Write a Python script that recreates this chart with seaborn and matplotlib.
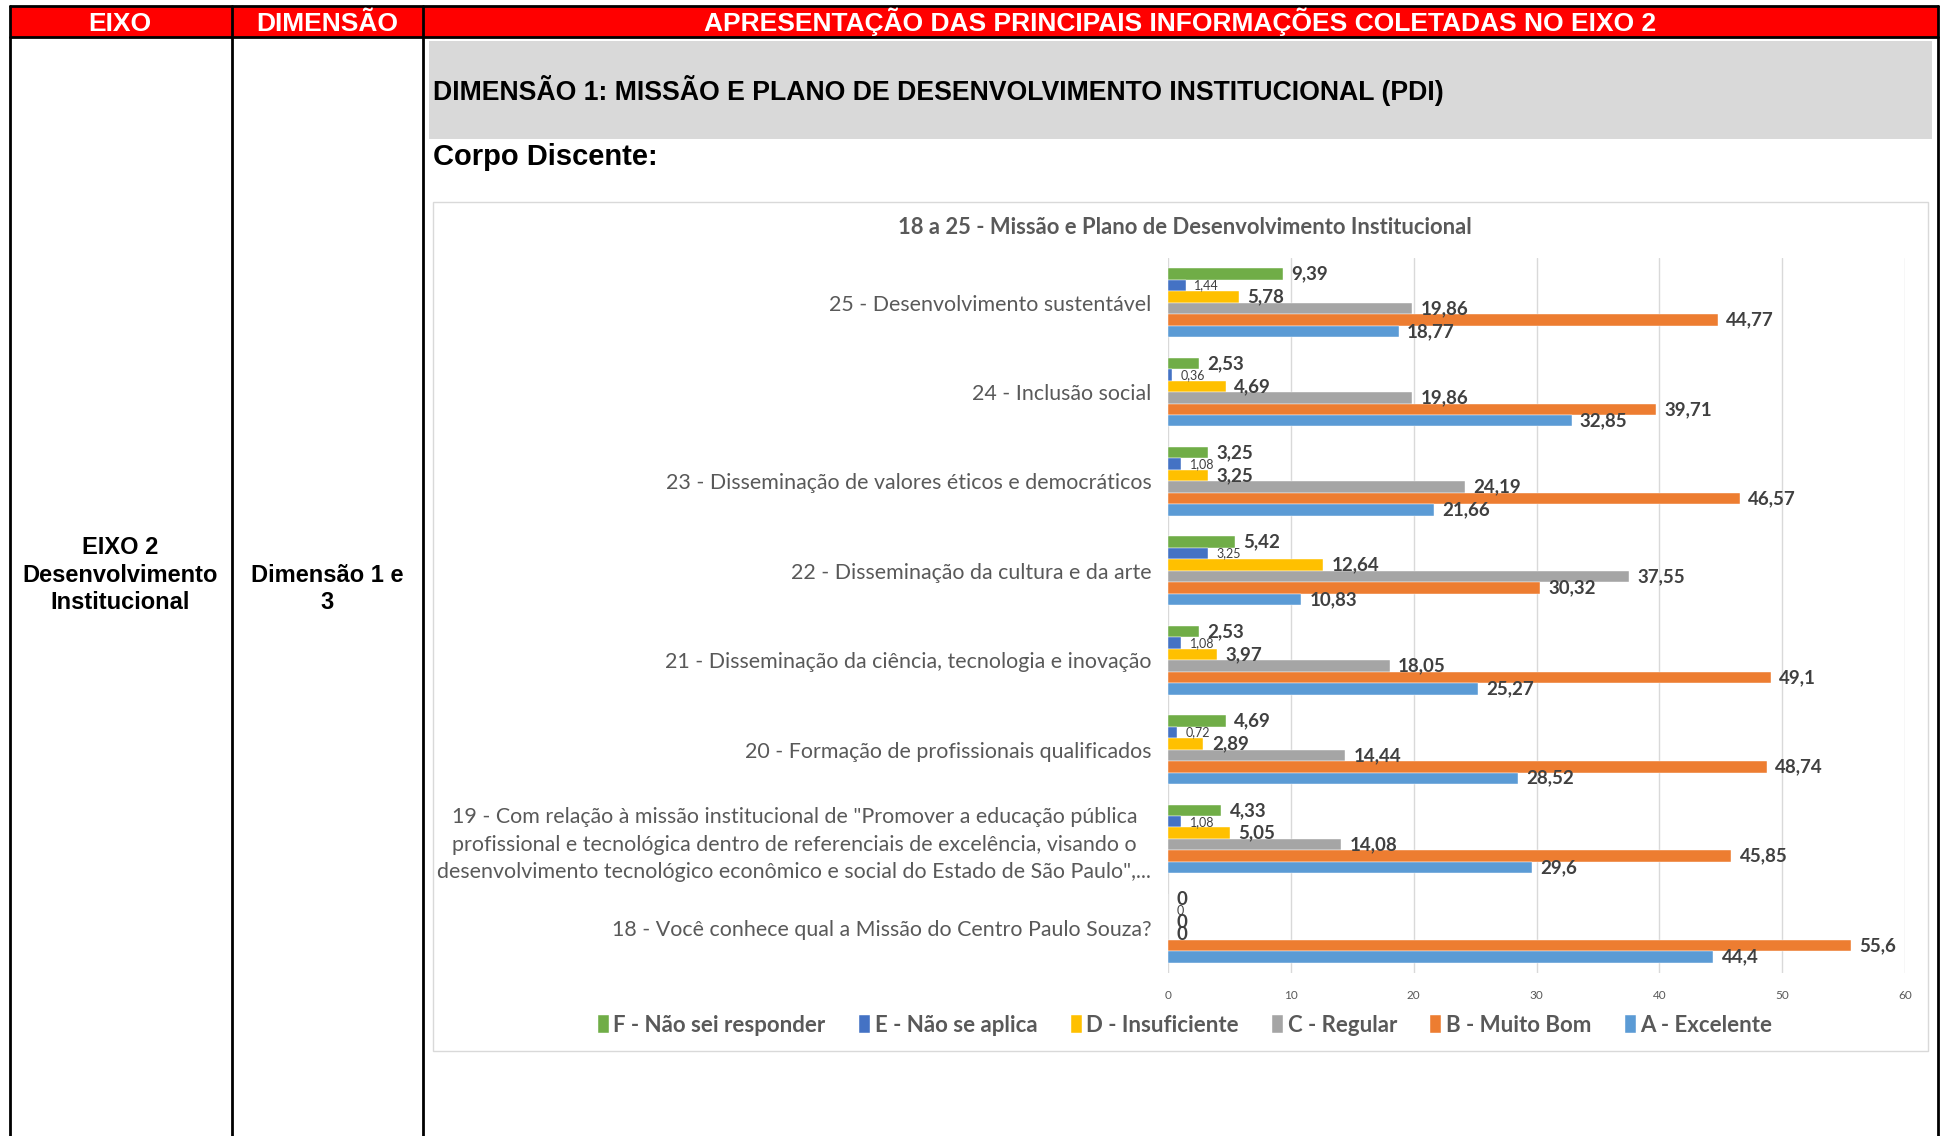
import matplotlib
matplotlib.use("Agg")
import matplotlib.pyplot as plt
from matplotlib.patches import Rectangle
from matplotlib.lines import Line2D
import pandas as pd
import seaborn as sns

W, H = 1944, 1136

QUESTOES = [
    "25 - Desenvolvimento sustentável",
    "24 - Inclusão social",
    "23 - Disseminação de valores éticos e democráticos",
    "22 - Disseminação da cultura e da arte",
    "21 - Disseminação da ciência, tecnologia e inovação",
    "20 - Formação de profissionais qualificados",
    '19 - Com relação à missão institucional de "Promover a educação pública\n'
    "profissional e tecnológica dentro de referenciais de excelência, visando o\n"
    'desenvolvimento tecnológico econômico e social do Estado de São Paulo",...',
    "18 - Você conhece qual a Missão do Centro Paulo Souza?",
]
RESPOSTAS = ["F - Não sei responder", "E - Não se aplica", "D - Insuficiente",
             "C - Regular", "B - Muito Bom", "A - Excelente"]
CORES = ["#70AD47", "#4472C4", "#FFC000", "#A5A5A5", "#ED7D31", "#5B9BD5"]

F_NAO_SEI = [9.39, 2.53, 3.25, 5.42, 2.53, 4.69, 4.33, 0]
E_NAO_APLICA = [1.44, 0.36, 1.08, 3.25, 1.08, 0.72, 1.08, 0]
D_INSUF = [5.78, 4.69, 3.25, 12.64, 3.97, 2.89, 5.05, 0]
C_REGULAR = [19.86, 19.86, 24.19, 37.55, 18.05, 14.44, 14.08, 0]
B_MUITO_BOM = [44.77, 39.71, 46.57, 30.32, 49.1, 48.74, 45.85, 55.6]
A_EXCELENTE = [18.77, 32.85, 21.66, 10.83, 25.27, 28.52, 29.6, 44.4]
X_TICKS = [0, 10, 20, 30, 40, 50, 60]

series = [F_NAO_SEI, E_NAO_APLICA, D_INSUF, C_REGULAR, B_MUITO_BOM, A_EXCELENTE]
rows = []
for resp, vals in zip(RESPOSTAS, series):
    for q, v in zip(QUESTOES, vals):
        rows.append({"questao": q, "resposta": resp, "valor": v})
df = pd.DataFrame(rows)

sns.set_theme(style="white")
plt.rcParams["font.family"] = ["Lato", "DejaVu Sans"]

GRAY_TXT = "#595959"
LABEL_TXT = "#404040"
TABLE_FONT = ["Liberation Sans", "DejaVu Sans"]


def fx(x):
    return x / W


def fy(y):
    return 1 - y / H


def box(x0, y0, x1, y1, **kw):
    return Rectangle((fx(x0), fy(y1)), fx(x1) - fx(x0), fy(y0) - fy(y1),
                     transform=fig.transFigure, **kw)


def vline(x, y0, y1, lw=2.0):
    fig.add_artist(Line2D([fx(x), fx(x)], [fy(y0), fy(y1)], color="black",
                          lw=lw, transform=fig.transFigure, zorder=5))


def hline(y, x0, x1, lw=2.0):
    fig.add_artist(Line2D([fx(x0), fx(x1)], [fy(y), fy(y)], color="black",
                          lw=lw, transform=fig.transFigure, zorder=5))


fig = plt.figure(figsize=(W / 100, H / 100), dpi=100)
fig.patch.set_facecolor("white")

# --- table frame -----------------------------------------------------------
fig.add_artist(box(10, 6, 1938, 37, facecolor="#FF0000", edgecolor="none", zorder=-3))
fig.add_artist(box(429, 41, 1932, 139, facecolor="#D9D9D9", edgecolor="none", zorder=-3))
fig.add_artist(box(433, 202, 1928, 1051, facecolor="white", edgecolor="#D9D9D9",
                   lw=1.0, zorder=-2))
hline(6, 10, 1938)
hline(37, 10, 1938)
for xv in (10, 232, 423, 1938):
    vline(xv, 6, H + 2)

hdr = dict(color="white", fontweight="bold", fontsize=19, family=TABLE_FONT,
           ha="center", va="baseline", zorder=6)
fig.text(fx(120), fy(31), "EIXO", **hdr)
fig.text(fx(327), fy(31), "DIMENSÃO", **hdr)
fig.text(fx(1180), fy(31), "APRESENTAÇÃO DAS PRINCIPAIS INFORMAÇÕES COLETADAS NO EIXO 2", **hdr)

fig.text(fx(433), fy(91), "DIMENSÃO 1: MISSÃO E PLANO DE DESENVOLVIMENTO INSTITUCIONAL (PDI)",
         color="black", fontweight="bold", fontsize=19.2, family=TABLE_FONT,
         ha="left", va="center")
fig.text(fx(433), fy(157), "Corpo Discente:", color="black", fontweight="bold",
         fontsize=21, family=TABLE_FONT, ha="left", va="center")
fig.text(fx(120), fy(575), "EIXO 2\nDesenvolvimento\nInstitucional", color="black",
         fontweight="bold", fontsize=17, family=TABLE_FONT, ha="center",
         va="center", linespacing=1.25)
fig.text(fx(327), fy(589), "Dimensão 1 e\n3", color="black", fontweight="bold",
         fontsize=17, family=TABLE_FONT, ha="center", va="center", linespacing=1.25)

# --- chart -----------------------------------------------------------------
fig.text(fx(1185), fy(227), "18 a 25 - Missão e Plano de Desenvolvimento Institucional",
         color=GRAY_TXT, fontweight="bold", fontsize=15.8, ha="center", va="center")

ax = fig.add_axes([fx(1168), fy(973), (1905 - 1168) / W, (973 - 258) / H])
ax.set_facecolor("none")
sns.barplot(data=df, y="questao", x="valor", hue="resposta", order=QUESTOES,
            hue_order=RESPOSTAS, palette=CORES, orient="h", width=0.77,
            saturation=1, errorbar=None, edgecolor="white", linewidth=0.3, ax=ax)

for i, cont in enumerate(ax.containers):
    labels = [f"{v:g}".replace(".", ",") for v in cont.datavalues]
    if RESPOSTAS[i].startswith("E"):
        ax.bar_label(cont, labels=labels, padding=6, fontsize=9,
                     color=LABEL_TXT)
    else:
        ax.bar_label(cont, labels=labels, padding=6, fontsize=13.5,
                     fontweight="bold", color=LABEL_TXT)

handles, labs = ax.get_legend_handles_labels()
ax.legend_.remove()
fig.legend(handles, labs, loc="center", bbox_to_anchor=(fx(1185), fy(1025)),
           ncol=6, frameon=False, handlelength=0.5, handleheight=0.9,
           handletextpad=0.2, columnspacing=1.5,
           prop={"weight": "bold", "size": 16}, labelcolor=GRAY_TXT)

ax.set_xlim(0, 60)
ax.set_ylim(len(QUESTOES) - 0.5, -0.5)
ax.set_xticks(X_TICKS)
ax.grid(axis="x", color="#D9D9D9", lw=1.0)
ax.grid(axis="y", visible=False)
ax.set_axisbelow(True)
for s in ax.spines.values():
    s.set_visible(False)
ax.set_xlabel("")
ax.set_ylabel("")
ax.tick_params(axis="x", length=0, pad=12, labelsize=8.5, labelcolor=GRAY_TXT)
ax.tick_params(axis="y", length=0, pad=12, labelsize=15.4, labelcolor=GRAY_TXT)
for t in ax.get_yticklabels():
    t.set_multialignment("center")
    t.set_linespacing(1.45)

fig.savefig("out.png", dpi=100)
